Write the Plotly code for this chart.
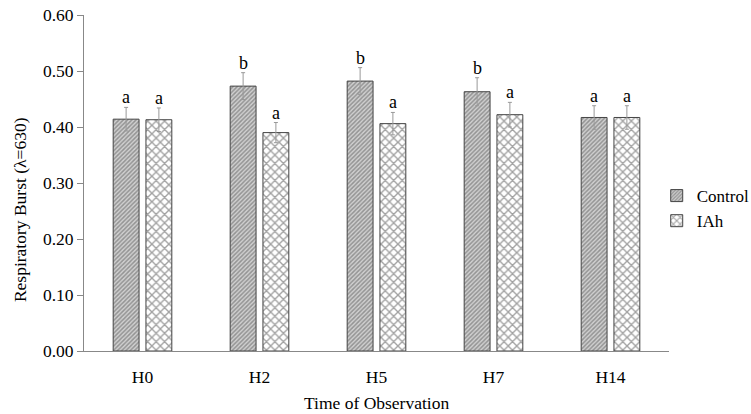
import plotly.graph_objects as go

categories = ["H0", "H2", "H5", "H7", "H14"]
control = [0.414, 0.473, 0.482, 0.463, 0.417]
control_err = [0.021, 0.024, 0.024, 0.025, 0.021]
iah = [0.413, 0.390, 0.406, 0.422, 0.417]
iah_err = [0.021, 0.018, 0.020, 0.022, 0.021]
control_letters = ["a", "b", "b", "b", "a"]
iah_letters = ["a", "a", "a", "a", "a"]
y_ticks = [0.0, 0.1, 0.2, 0.3, 0.4, 0.5, 0.6]

FONT = "Liberation Serif, DejaVu Serif, serif"
fig = go.Figure()
fig.add_trace(go.Bar(
    name="Control", x=categories, y=control,
    error_y=dict(type="data", array=control_err, color="#999999", thickness=1, width=2),
    marker=dict(color="#d0d0d0", line=dict(color="#444444", width=1),
                pattern=dict(shape="/", fgcolor="#555555", bgcolor="#d0d0d0", size=3, solidity=0.5)),
))
fig.add_trace(go.Bar(
    name="IAh", x=categories, y=iah,
    error_y=dict(type="data", array=iah_err, color="#999999", thickness=1, width=2),
    marker=dict(color="white", line=dict(color="#444444", width=1),
                pattern=dict(shape="x", fgcolor="#444444", bgcolor="white", size=6, solidity=0.4)),
))

for i, c in enumerate(categories):
    fig.add_annotation(x=c, y=control[i] + control_err[i], text=control_letters[i],
                       xshift=-16.5, yshift=-2, yanchor="bottom", showarrow=False,
                       font=dict(family=FONT, size=18, color="black"))
    fig.add_annotation(x=c, y=iah[i] + iah_err[i], text=iah_letters[i],
                       xshift=16.5, yshift=-2, yanchor="bottom", showarrow=False,
                       font=dict(family=FONT, size=18, color="black"))

fig.add_annotation(xref="paper", yref="paper", x=-0.109, y=0.42, textangle=-90,
                   text="Respiratory Burst (λ=630)", showarrow=False,
                   xanchor="center", yanchor="middle",
                   font=dict(family=FONT, size=17.5, color="black"))
fig.add_annotation(xref="paper", yref="paper", x=0.5, y=-0.155,
                   text="Time of Observation", showarrow=False,
                   xanchor="center", yanchor="middle",
                   font=dict(family=FONT, size=17.5, color="black"))

fig.update_layout(
    width=751, height=414,
    margin=dict(l=84, r=82, t=15, b=63, autoexpand=False),
    paper_bgcolor="white", plot_bgcolor="white",
    barmode="group", bargap=0.44, bargroupgap=0.21,
    font=dict(family=FONT, size=17, color="black"),
    showlegend=True,
    legend=dict(x=0.979, y=0.424, xanchor="left", yanchor="middle",
                font=dict(family=FONT, size=17), itemwidth=30,
                bgcolor="rgba(0,0,0,0)"),
    xaxis=dict(showline=True, linecolor="#888888", linewidth=1, ticks="",
               automargin=False, ticklabelstandoff=10,
               tickfont=dict(family=FONT, size=17.5)),
    yaxis=dict(range=[0, 0.6], tickvals=y_ticks, tickformat=".2f",
               showline=True, linecolor="#888888", linewidth=1,
               automargin=False,
               ticks="outside", ticklen=6, tickcolor="#888888",
               showgrid=False, zeroline=False,
               tickfont=dict(family=FONT, size=17.5)),
)
fig.write_html("out.html", config={"displayModeBar": False},
               post_script="document.body.style.margin='0';")
